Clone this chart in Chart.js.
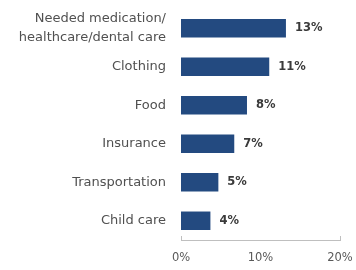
<!DOCTYPE html>
<html><head><meta charset="utf-8">
<script src="https://cdn.jsdelivr.net/npm/chart.js@4"></script>
<style>html,body{margin:0;padding:0;background:#fff}#wrap{width:356px;height:270px}</style>
</head><body><div id="wrap"><canvas id="c" width="356" height="270"></canvas></div>
<script>
const categories = [["Needed medication/","healthcare/dental care"],"Clothing","Food","Insurance","Transportation","Child care"];
const values = [13.2, 11.1, 8.3, 6.7, 4.7, 3.7];
const valueLabels = ["13%","11%","8%","7%","5%","4%"];
const xTicks = [0, 10, 20];

const labelPlugin = {
  id: 'valLabels',
  afterDatasetsDraw(chart) {
    const ctx = chart.ctx;
    const meta = chart.getDatasetMeta(0);
    ctx.save();
    ctx.font = 'bold 11.5px "DejaVu Sans"';
    ctx.fillStyle = '#3a3a3a';
    ctx.textBaseline = 'middle';
    ctx.textAlign = 'left';
    meta.data.forEach((bar, i) => {
      ctx.fillText(valueLabels[i], bar.x + 9, bar.y);
    });
    // upward tick marks at axis ends
    const xs = chart.scales.x;
    const yb = chart.chartArea.bottom;
    ctx.strokeStyle = '#bfbfbf';
    ctx.lineWidth = 1;
    [xs.min, xs.max].forEach(v => {
      const px = Math.round(xs.getPixelForValue(v)) + 0.5;
      ctx.beginPath(); ctx.moveTo(px, yb); ctx.lineTo(px, yb - 4); ctx.stroke();
    });
    ctx.restore();
  }
};

new Chart(document.getElementById('c'), {
  type: 'bar',
  data: { labels: categories, datasets: [{ data: values, backgroundColor: '#234a80', barPercentage: 0.96, categoryPercentage: 0.5 }] },
  options: {
    indexAxis: 'y', responsive: false, animation: false,
    layout: { padding: { top: 9, right: 16, left: 0, bottom: 0 } },
    plugins: { legend: { display: false }, tooltip: { enabled: false } },
    scales: {
      x: {
        min: 0, max: 20,
        afterBuildTicks(s) { s.ticks = xTicks.map(v => ({ value: v })); },
        afterFit(s) { s.height = 30; s.paddingLeft = 0; s.paddingRight = 0; },
        border: { display: true, color: '#bfbfbf', width: 1 },
        grid: { display: false, drawTicks: false },
        ticks: { padding: 11, color: '#595959', font: { family: '"DejaVu Sans"', size: 11.5 }, callback: v => v + '%' }
      },
      y: {
        afterFit(s) { s.width = 181; s.paddingTop = 0; s.paddingBottom = 0; },
        border: { display: false },
        grid: { display: false, drawTicks: false },
        ticks: { autoSkip: false, padding: 15, color: '#505050', font: { family: '"DejaVu Sans"', size: 13, lineHeight: 1.45 } }
      }
    }
  },
  plugins: [labelPlugin]
});
</script></body></html>
